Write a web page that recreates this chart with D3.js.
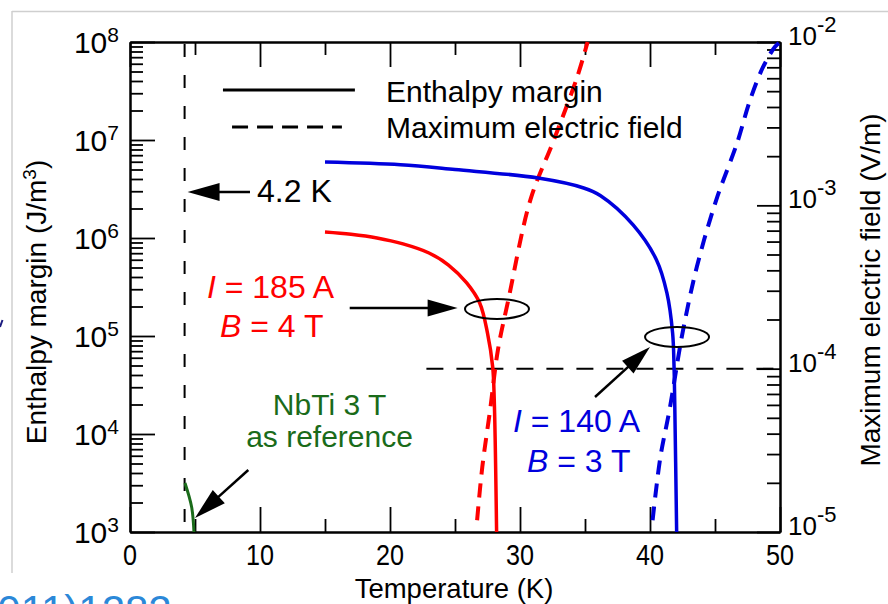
<!DOCTYPE html>
<html><head><meta charset="utf-8">
<script src="https://cdn.jsdelivr.net/npm/d3@7"></script>
<style>
html,body{margin:0;padding:0;background:#fff;}
svg{display:block;}
text{font-family:"Liberation Sans",Arial,Helvetica,sans-serif;}
</style>
</head><body>
<svg id="c" width="888" height="604"></svg>
<script>
// ---------------- data ----------------
const tempTicksMajor = [0, 10, 20, 30, 40, 50];
const tempTicksMinor = [5, 15, 25, 35, 45];
const enthDecades = [1e3, 1e4, 1e5, 1e6, 1e7, 1e8];
const enthExpLabels = ["3", "4", "5", "6", "7", "8"];
const fieldDecades = [1e-5, 1e-4, 1e-3, 1e-2];
const fieldExpLabels = ["-5", "-4", "-3", "-2"];

// Enthalpy margin (J/m^3), I = 185 A, B = 4 T
const redEnthT = [15, 17, 19, 21, 23, 24.5, 25.9, 26.9, 27.5, 27.9, 28.02, 28.2];
const redEnthV = [1.15e6, 1.09e6, 1.0e6, 8.7e5, 7.03e5, 5.3e5, 3.48e5, 2.17e5, 1.07e5, 4.83e4, 2.22e4, 1e3];
// Enthalpy margin (J/m^3), I = 140 A, B = 3 T
const blueEnthT = [15, 20.8, 25, 31.4, 34.9, 36.2, 38.7, 40.5, 41.3, 41.74, 41.85, 41.9, 42.05];
const blueEnthV = [5.97e6, 5.6e6, 5.0e6, 4.09e6, 3.24e6, 2.7e6, 1.36e6, 5.97e5, 2.75e5, 1.07e5, 4.83e4, 2.2e4, 1e3];
// Maximum electric field (V/m)
const redFieldT = [26.7, 27.1, 27.7, 28.3, 29.1, 30.8, 32.6, 34.4, 35.2];
const redFieldV = [1.18e-5, 2.5e-5, 5.58e-5, 1.3e-4, 2.63e-4, 1.08e-3, 2.51e-3, 6.11e-3, 1e-2];
const blueFieldT = [40.2, 40.8, 41.5, 42.5, 43.6, 45.1, 46.7, 47.7, 48.7, 49.6, 50];
const blueFieldV = [1.18e-5, 2.88e-5, 5.58e-5, 1.65e-4, 4.19e-4, 1.08e-3, 2.41e-3, 4.42e-3, 7.03e-3, 9.31e-3, 1e-2];
// NbTi 3 T reference
const nbtiT = [4.23, 4.74, 4.92];
const nbtiV = [3.16e3, 1.8e3, 1e3];
const bathTemp = 4.2;
const refField = 1e-4;
const refFieldStartT = 22.8;

// ---------------- layout ----------------
const svg = d3.select("#c");
const x = d3.scaleLinear().domain([0, 50]).range([130, 780]);
const yL = d3.scaleLog().domain([1e3, 1e8]).range([532, 42]);
const yR = d3.scaleLog().domain([1e-5, 1e-2]).range([532, 42]);
const X = t => x(t);
const Y = lg => yL(Math.pow(10, lg));   // position in log10(enthalpy) units

const RED = "#ff0000", BLUE = "#0000dd", GREEN = "#1a6b1a";

// slide frame remnants
svg.append("line").attr("x1", 12).attr("y1", 11.5).attr("x2", 888).attr("y2", 11.5)
  .attr("stroke", "#cfcfcf").attr("stroke-width", 1.5);
svg.append("line").attr("x1", 12).attr("y1", 11).attr("x2", 12).attr("y2", 573)
  .attr("stroke", "#cfcfcf").attr("stroke-width", 1.5);
svg.append("text").attr("x", -40).attr("y", 625).attr("font-size", 42).attr("fill", "#2b88d8").text("(2011)1282");
svg.append("line").attr("x1", 0).attr("y1", 327).attr("x2", 2.5).attr("y2", 320)
  .attr("stroke", "#1c1c80").attr("stroke-width", 2);

// ---------------- axes ----------------
function styleAxis(g) {
  g.selectAll("path.domain").attr("stroke", "#000").attr("stroke-width", 2);
  g.selectAll(".tick line").attr("stroke", "#000").attr("stroke-width", 1.8);
  g.selectAll(".tick text").remove();
}
const minorEnth = [];
enthDecades.slice(0, -1).forEach(d => { for (let m = 2; m <= 9; m++) minorEnth.push(d * m); });
const minorField = [];
fieldDecades.slice(0, -1).forEach(d => { for (let m = 2; m <= 9; m++) minorField.push(d * m); });

svg.append("g").attr("transform", "translate(0,532)")
  .call(d3.axisBottom(x).tickValues(tempTicksMajor).tickSize(-25).tickSizeOuter(0).tickFormat("")).call(styleAxis);
svg.append("g").attr("transform", "translate(0,532)")
  .call(d3.axisBottom(x).tickValues(tempTicksMinor).tickSize(-13).tickSizeOuter(0).tickFormat("")).call(styleAxis);
svg.append("g").attr("transform", "translate(0,42)")
  .call(d3.axisTop(x).tickValues(tempTicksMajor).tickSize(-25).tickSizeOuter(0).tickFormat("")).call(styleAxis);
svg.append("g").attr("transform", "translate(0,42)")
  .call(d3.axisTop(x).tickValues(tempTicksMinor).tickSize(-13).tickSizeOuter(0).tickFormat("")).call(styleAxis);
svg.append("g").attr("transform", "translate(130,0)")
  .call(d3.axisLeft(yL).tickValues(enthDecades).tickSize(-25).tickSizeOuter(0).tickFormat("")).call(styleAxis);
svg.append("g").attr("transform", "translate(130,0)")
  .call(d3.axisLeft(yL).tickValues(minorEnth).tickSize(-13).tickSizeOuter(0).tickFormat("")).call(styleAxis);
svg.append("g").attr("transform", "translate(780,0)")
  .call(d3.axisRight(yR).tickValues(fieldDecades).tickSize(-23).tickSizeOuter(0).tickFormat("")).call(styleAxis);
svg.append("g").attr("transform", "translate(780,0)")
  .call(d3.axisRight(yR).tickValues(minorField).tickSize(-13).tickSizeOuter(0).tickFormat("")).call(styleAxis);

// tick labels
tempTicksMajor.forEach(t => {
  const s = String(t);
  svg.append("text").attr("x", x(t)).attr("y", 565).attr("text-anchor", "middle")
    .attr("font-size", 30).attr("textLength", s.length > 1 ? 28 : 14)
    .attr("lengthAdjust", "spacingAndGlyphs").text(s);
});
enthDecades.forEach((v, i) => {
  const t = svg.append("text").attr("x", 119).attr("y", yL(v) + 11)
    .attr("text-anchor", "end").attr("font-size", 30);
  t.append("tspan").text("10");
  t.append("tspan").attr("dy", -11).attr("font-size", 21).text(enthExpLabels[i]);
});
fieldDecades.forEach((v, i) => {
  const t = svg.append("text").attr("x", 788).attr("y", yR(v) + 3)
    .attr("text-anchor", "start").attr("font-size", 26);
  t.append("tspan").text("10");
  t.append("tspan").attr("dy", -13).attr("font-size", 22).text(fieldExpLabels[i]);
});

// axis titles
svg.append("text").attr("x", 454).attr("y", 598).attr("text-anchor", "middle")
  .attr("font-size", 27.5).text("Temperature (K)");
{
  const t = svg.append("text").attr("transform", "translate(46,302) rotate(-90)")
    .attr("text-anchor", "middle").attr("font-size", 28);
  t.append("tspan").text("Enthalpy margin (J/m");
  t.append("tspan").attr("dy", -10).attr("font-size", 19).text("3");
  t.append("tspan").attr("dy", 10).text(")");
}
svg.append("text").attr("transform", "translate(880,290) rotate(-90)")
  .attr("text-anchor", "middle").attr("font-size", 28).text("Maximum electric field (V/m)");

// ---------------- marks ----------------
const curve = d3.curveCatmullRom.alpha(0.5);
const lineL = d3.line().x(d => x(d[0])).y(d => yL(d[1])).curve(curve);
const lineR = d3.line().x(d => x(d[0])).y(d => yR(d[1])).curve(curve);
const zip = (a, b) => a.map((v, i) => [v, b[i]]);

// reference lines
svg.append("line").attr("x1", x(bathTemp)).attr("x2", x(bathTemp)).attr("y1", 44).attr("y2", 532)
  .attr("stroke", "#000").attr("stroke-width", 2).attr("stroke-dasharray", "13,18");
svg.append("line").attr("x1", x(refFieldStartT)).attr("x2", x(50)).attr("y1", yR(refField)).attr("y2", yR(refField))
  .attr("stroke", "#000").attr("stroke-width", 2).attr("stroke-dasharray", "17,13");

svg.append("path").attr("d", lineR(zip(redFieldT, redFieldV))).attr("fill", "none")
  .attr("stroke", RED).attr("stroke-width", 4).attr("stroke-dasharray", "14,9");
svg.append("path").attr("d", lineR(zip(blueFieldT, blueFieldV))).attr("fill", "none")
  .attr("stroke", BLUE).attr("stroke-width", 4).attr("stroke-dasharray", "14,9");
svg.append("path").attr("d", lineL(zip(redEnthT, redEnthV))).attr("fill", "none")
  .attr("stroke", RED).attr("stroke-width", 3.5);
svg.append("path").attr("d", lineL(zip(blueEnthT, blueEnthV))).attr("fill", "none")
  .attr("stroke", BLUE).attr("stroke-width", 3.5);
svg.append("path").attr("d", lineL(zip(nbtiT, nbtiV))).attr("fill", "none")
  .attr("stroke", GREEN).attr("stroke-width", 3);

// ---------------- annotations ----------------
function arrow(x1, y1, x2, y2, len = 30, half = 8.5) {
  const a = Math.atan2(y2 - y1, x2 - x1);
  const bx = x2 - len * Math.cos(a), by = y2 - len * Math.sin(a);
  const px = -Math.sin(a) * half, py = Math.cos(a) * half;
  svg.append("line").attr("x1", x1).attr("y1", y1).attr("x2", bx + 2 * Math.cos(a)).attr("y2", by + 2 * Math.sin(a))
    .attr("stroke", "#000").attr("stroke-width", 2.5);
  svg.append("path").attr("d", `M${x2},${y2}L${bx + px},${by + py}L${bx - px},${by - py}Z`).attr("fill", "#000");
}
function ellipse(t, lg) {
  svg.append("ellipse").attr("cx", X(t)).attr("cy", Y(lg)).attr("rx", 32).attr("ry", 10)
    .attr("fill", "none").attr("stroke", "#000").attr("stroke-width", 2);
}
function label(xp, yp, parts, opts) {
  const t = svg.append("text").attr("x", xp).attr("y", yp).attr("font-size", opts.size)
    .attr("fill", opts.fill || "#000").attr("text-anchor", opts.anchor || "start");
  parts.forEach(p => {
    const s = t.append("tspan").text(p.s);
    if (p.it) s.attr("font-style", "italic");
  });
  return t;
}

// legend
svg.append("line").attr("x1", X(7.15)).attr("x2", X(17.3)).attr("y1", Y(7.51)).attr("y2", Y(7.51))
  .attr("stroke", "#000").attr("stroke-width", 3);
svg.append("line").attr("x1", X(7.85)).attr("x2", X(16.3)).attr("y1", Y(7.133)).attr("y2", Y(7.133))
  .attr("stroke", "#000").attr("stroke-width", 3).attr("stroke-dasharray", "16,9");
label(X(19.69), Y(7.388), [{s: "Enthalpy margin"}], {size: 30});
label(X(19.69), Y(7.02), [{s: "Maximum electric field"}], {size: 30});

// 4.2 K
arrow(X(9.23), Y(6.469), X(4.43), Y(6.469), 32, 9);
label(X(9.77), Y(6.367), [{s: "4.2 K"}], {size: 32});

// red case
label(X(5.92), Y(5.388), [{s: "I", it: true}, {s: " = 185 A"}], {size: 32, fill: RED});
label(X(6.92), Y(4.99), [{s: "B", it: true}, {s: " = 4 T"}], {size: 32, fill: RED});
arrow(X(16.9), Y(5.286), X(25.2), Y(5.286));
ellipse(28.23, 5.276);

// blue case
label(X(29.46), Y(4.02), [{s: "I", it: true}, {s: " = 140 A"}], {size: 32, fill: BLUE});
label(X(30.54), Y(3.612), [{s: "B", it: true}, {s: " = 3 T"}], {size: 32, fill: BLUE});
arrow(X(35.77), Y(4.378), X(40.0), Y(4.888));
ellipse(42.08, 4.99);

// NbTi
label(X(15.35), Y(4.194), [{s: "NbTi 3 T"}], {size: 30, fill: GREEN, anchor: "middle"});
label(X(15.35), Y(3.867), [{s: "as reference"}], {size: 30, fill: GREEN, anchor: "middle"});
arrow(X(9.1), Y(3.633), X(5.0), Y(3.143), 32, 9);
</script>
</body></html>
